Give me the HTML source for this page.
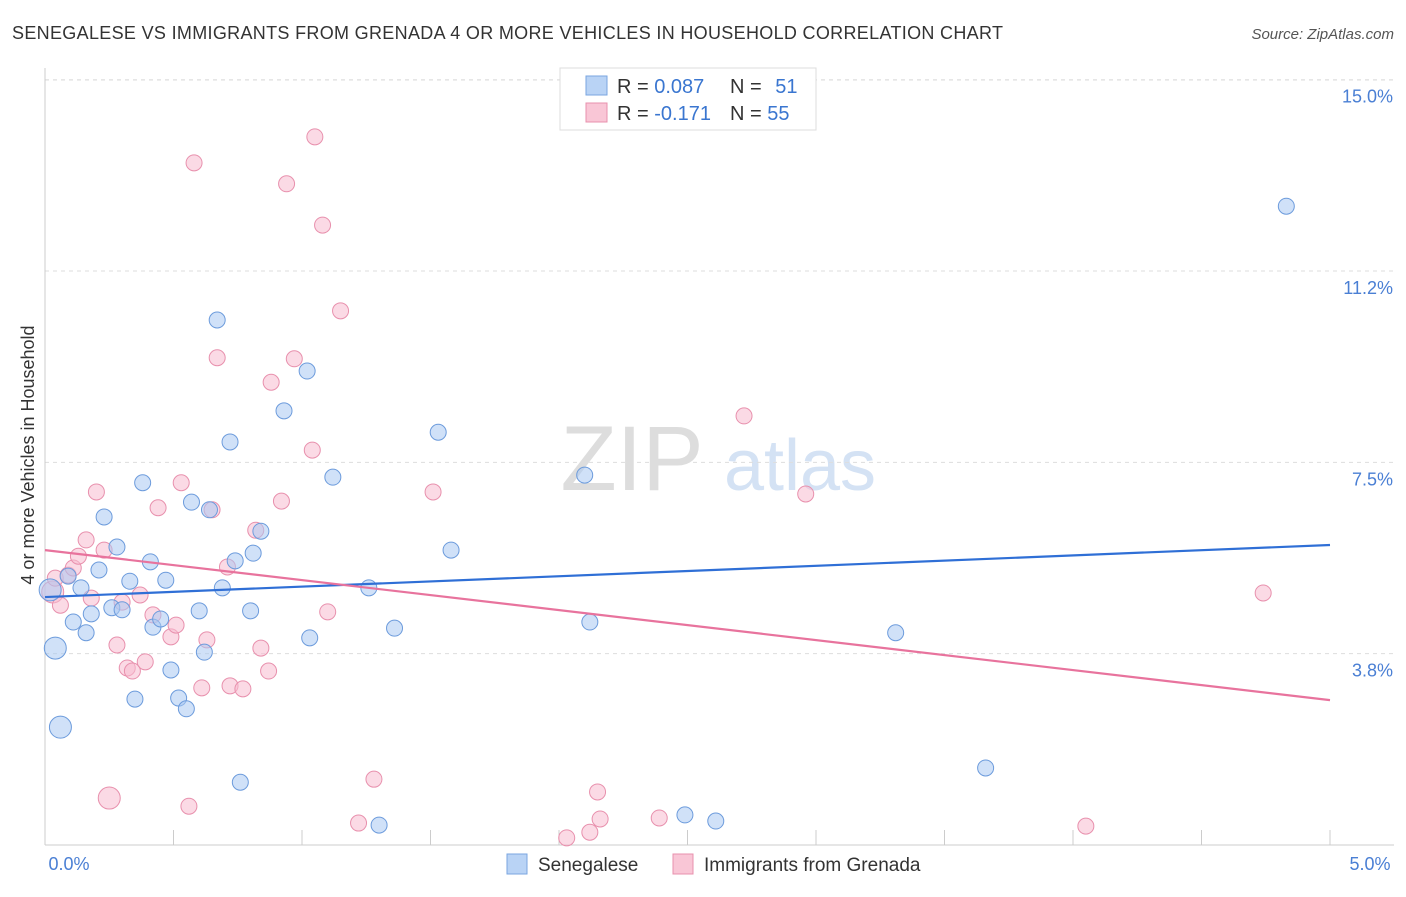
<!DOCTYPE html>
<html><head><meta charset="utf-8"><style>
body{margin:0;background:#fff;font-family:"Liberation Sans",sans-serif;}
svg text{font-family:"Liberation Sans",sans-serif;}
</style></head><body>
<svg id="chart" width="1406" height="892" xmlns="http://www.w3.org/2000/svg">
<text x="12" y="39" font-size="18" fill="#333" textLength="991">SENEGALESE VS IMMIGRANTS FROM GRENADA 4 OR MORE VEHICLES IN HOUSEHOLD CORRELATION CHART</text>
<text x="1394" y="39" font-size="15" fill="#555" text-anchor="end" font-style="italic">Source: ZipAtlas.com</text>
<g>
<text x="632" y="490" font-size="92" fill="#ddd" font-family="Liberation Serif" text-anchor="middle">ZIP</text>
<text x="800" y="490" font-size="72" fill="#d4e2f4" text-anchor="middle">atlas</text>
</g>
<text transform="translate(34,455) rotate(-90)" font-size="18" fill="#333" text-anchor="middle">4 or more Vehicles in Household</text>
<g id="grid"></g><g id="axes"></g><g id="pts"></g><g id="lines"></g>
<g>
<rect x="560" y="68" width="256" height="62" fill="#fff" stroke="#ddd"/>
<rect x="586" y="76" width="21" height="19" fill="#b9d3f5" stroke="#7aa6e0"/>
<text x="617" y="93" font-size="20" fill="#333">R = <tspan fill="#3a76d0">0.087</tspan></text>
<text x="730" y="93" font-size="20" fill="#333">N = <tspan fill="#3a76d0" dx="8">51</tspan></text>
<rect x="586" y="103" width="21" height="19" fill="#f9c6d6" stroke="#e890ad"/>
<text x="617" y="120" font-size="20" fill="#333">R = <tspan fill="#3a76d0">-0.171</tspan></text>
<text x="730" y="120" font-size="20" fill="#333">N = <tspan fill="#3a76d0">55</tspan></text>
</g>
<g>
<rect x="507" y="854" width="20" height="20" fill="#b9d3f5" stroke="#7aa6e0"/>
<text x="538" y="871" font-size="19" fill="#333">Senegalese</text>
<rect x="673" y="854" width="20" height="20" fill="#f9c6d6" stroke="#e890ad"/>
<text x="704" y="871" font-size="19" fill="#333">Immigrants from Grenada</text>
</g>
</svg>
<script>
const yTicks=[3.75,7.5,11.25,15];
const yTickLabels=["3.8%","7.5%","11.2%","15.0%"];
const xTickLabels=["0.0%","5.0%"];
const blueX=[0.04,0.06,0.09,0.14,0.11,0.16,0.18,0.21,0.23,0.28,0.26,0.30,0.33,0.35,0.38,0.41,0.42,0.45,0.47,0.49,0.52,0.55,0.57,0.60,0.62,0.64,0.67,0.69,0.72,0.74,0.76,0.80,0.81,0.84,0.93,1.02,1.03,1.12,1.26,1.30,1.36,1.53,1.58,2.10,2.12,2.49,2.61,3.31,3.66,4.83,0.02];
const blueY=[3.86,2.31,5.27,5.04,4.37,4.16,4.53,5.39,6.43,5.84,4.65,4.61,5.17,2.86,7.10,5.55,4.27,4.43,5.19,3.43,2.88,2.67,6.72,4.59,3.78,6.57,10.29,5.04,7.90,5.57,1.23,4.59,5.72,6.15,8.51,9.29,4.06,7.21,5.04,0.39,4.25,8.09,5.78,7.25,4.37,0.59,0.47,4.16,1.51,12.52,5.00];
const blueBig=[0,1,50];
const pinkX=[0.03,0.04,0.06,0.09,0.11,0.13,0.16,0.18,0.20,0.23,0.25,0.28,0.30,0.32,0.34,0.37,0.39,0.42,0.44,0.49,0.51,0.53,0.56,0.58,0.61,0.63,0.65,0.67,0.71,0.72,0.77,0.82,0.84,0.87,0.88,0.92,0.94,0.97,1.04,1.05,1.08,1.10,1.15,1.22,1.28,1.51,2.03,2.12,2.15,2.16,2.39,2.72,2.96,4.05,4.74];
const pinkY=[4.96,5.23,4.70,5.29,5.43,5.66,5.98,4.84,6.92,5.78,0.92,3.92,4.76,3.47,3.41,4.90,3.59,4.51,6.61,4.08,4.31,7.10,0.76,13.37,3.08,4.02,6.57,9.55,5.45,3.12,3.06,6.17,3.86,3.41,9.07,6.74,12.96,9.53,7.74,13.88,12.15,4.57,10.47,0.43,1.29,6.92,0.14,0.25,1.04,0.51,0.53,8.41,6.88,0.37,4.94];
const pinkBig=[0,10];
const blueTrend=[4.86,5.88];
const pinkTrend=[5.78,2.84];
const X0=45,X1=1330,YB=845,PPY=51.02;
const sx=v=>X0+(X1-X0)*v/5, sy=v=>YB-v*PPY;
const NS="http://www.w3.org/2000/svg";
function mk(t,a,p){const e=document.createElementNS(NS,t);for(const k in a)e.setAttribute(k,a[k]);document.getElementById(p).appendChild(e);return e;}
yTicks.forEach((t,i)=>{
 const l=mk('line',{x1:X0,x2:1394,y1:sy(t),y2:sy(t),stroke:'#ddd','stroke-dasharray':'4,4'},'grid');
 
 
 const tx=mk('text',{x:1393,y:sy(t)+23,'font-size':18,fill:'#4a7fd4','text-anchor':'end'},'axes');
 tx.textContent=yTickLabels[i];
 
 
});
const topGrid=mk('line',{x1:X0,x2:1394,y1:80,y2:80,stroke:'#ddd','stroke-dasharray':'4,4'},'grid');


const ya=mk('line',{x1:X0,x2:X0,y1:68,y2:YB,stroke:'#ccc'},'axes');


const xa=mk('line',{x1:X0,x2:1394,y1:YB,y2:YB,stroke:'#ccc'},'axes');


for(let i=0;i<=10;i++){const t=mk('line',{x1:sx(i*0.5),x2:sx(i*0.5),y1:830,y2:YB,stroke:'#ccc'},'axes');
 
 }
[[0,X0+24],[1,1370]].forEach(([i,x])=>{const t=mk('text',{x:x,y:870,'font-size':18,fill:'#4a7fd4','text-anchor':'middle'},'axes');t.textContent=xTickLabels[i];
 
 });
function pts(X,Y,big,fill,stroke,name){X.forEach((x,i)=>{const c=mk('circle',{cx:sx(x),cy:sy(Y[i]),r:big.includes(i)?11:8,fill:fill,'fill-opacity':0.55,stroke:stroke,'stroke-width':1},'pts');
 
 });}
pts(pinkX,pinkY,pinkBig,'#f7bcd0','#e890ad','grenada-point');
pts(blueX,blueY,blueBig,'#a9c9f2','#6c9bdc','senegalese-point');
const bl=mk('line',{x1:sx(0),x2:sx(5),y1:sy(blueTrend[0]),y2:sy(blueTrend[1]),stroke:'#2f6fd6','stroke-width':2.2},'lines');


const pl=mk('line',{x1:sx(0),x2:sx(5),y1:sy(pinkTrend[0]),y2:sy(pinkTrend[1]),stroke:'#e8739d','stroke-width':2.2},'lines');


</script>
</body></html>
